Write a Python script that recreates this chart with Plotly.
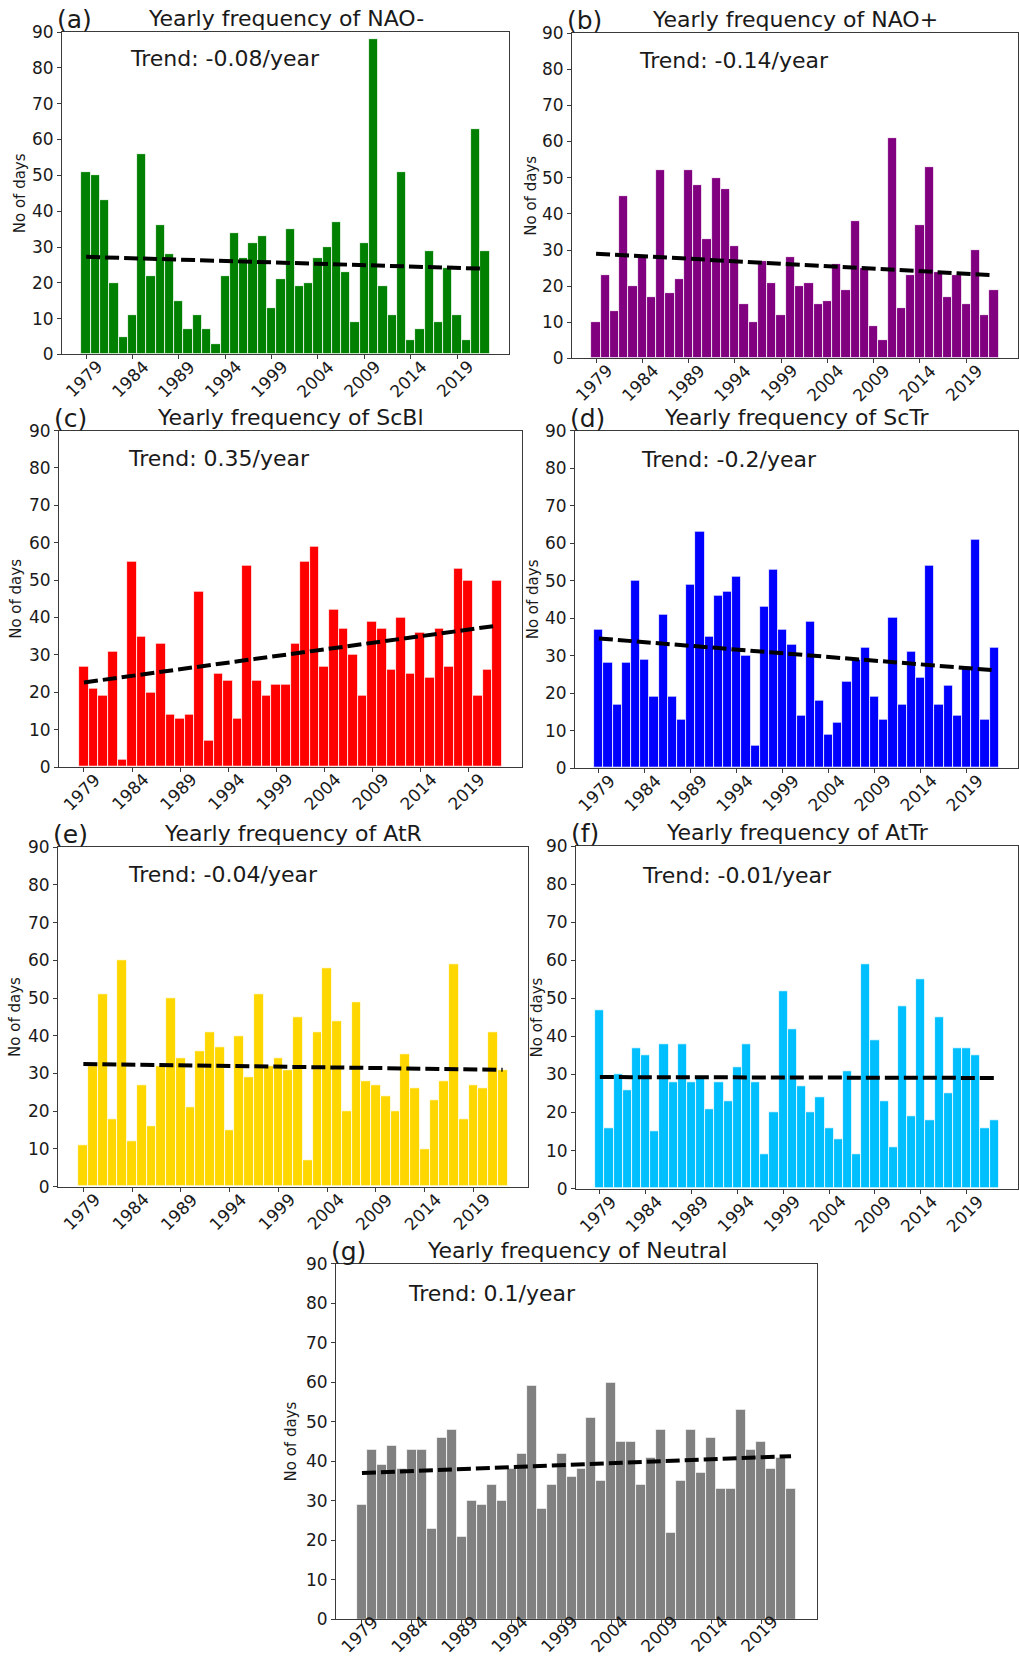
import numpy as np
import plotly.graph_objects as go

# ---------------- data ----------------
years = list(range(1979, 2023))

nao_minus = [51, 50, 43, 20, 5, 11, 56, 22, 36, 28,
             15, 7, 11, 7, 3, 22, 34, 27, 31, 33,
             13, 21, 35, 19, 20, 27, 30, 37, 23, 9,
             31, 88, 19, 11, 51, 4, 7, 29, 9, 24,
             11, 4, 63, 29]
nao_plus = [10, 23, 13, 45, 20, 28, 17, 52, 18, 22,
            52, 48, 33, 50, 47, 31, 15, 10, 27, 21,
            12, 28, 20, 21, 15, 16, 26, 19, 38, 25,
            9, 5, 61, 14, 23, 37, 53, 24, 17, 23,
            15, 30, 12, 19]
scbl = [27, 21, 19, 31, 2, 55, 35, 20, 33, 14,
        13, 14, 47, 7, 25, 23, 13, 54, 23, 19,
        22, 22, 33, 55, 59, 27, 42, 37, 30, 19,
        39, 37, 26, 40, 25, 36, 24, 37, 27, 53,
        50, 19, 26, 50]
sctr = [37, 28, 17, 28, 50, 29, 19, 41, 19, 13,
        49, 63, 35, 46, 47, 51, 30, 6, 43, 53,
        37, 33, 14, 39, 18, 9, 12, 23, 29, 32,
        19, 13, 40, 17, 31, 24, 54, 17, 22, 14,
        27, 61, 13, 32]
atr = [11, 32, 51, 18, 60, 12, 27, 16, 32, 50,
       34, 21, 36, 41, 37, 15, 40, 29, 51, 32,
       34, 31, 45, 7, 41, 58, 44, 20, 49, 28,
       27, 24, 20, 35, 26, 10, 23, 28, 59, 18,
       27, 26, 41, 31]
attr = [47, 16, 30, 26, 37, 35, 15, 38, 28, 38,
        28, 29, 21, 28, 23, 32, 38, 28, 9, 20,
        52, 42, 27, 20, 24, 16, 13, 31, 9, 59,
        39, 23, 11, 48, 19, 55, 18, 45, 25, 37,
        37, 35, 16, 18]
neutral = [29, 43, 39, 44, 38, 43, 43, 23, 46, 48,
           21, 30, 29, 34, 30, 38, 42, 59, 28, 34,
           42, 36, 38, 51, 35, 60, 45, 45, 34, 41,
           48, 22, 35, 48, 37, 46, 33, 33, 53, 43,
           45, 38, 41, 33]

regime_names = ["NAO-", "NAO+", "ScBl", "ScTr", "AtR", "AtTr", "Neutral"]
panel_letters = ["(a)", "(b)", "(c)", "(d)", "(e)", "(f)", "(g)"]
trend_labels = ["-0.08", "-0.14", "0.35", "-0.2", "-0.04", "-0.01", "0.1"]
series = [nao_minus, nao_plus, scbl, sctr, atr, attr, neutral]
bar_colors = ["#008000", "#800080", "#ff0000", "#0000ff", "#ffd700", "#00bfff", "#808080"]
year_ticks = years[::5]
y_ticks = list(range(0, 91, 10))

# ---------------- layout geometry (pixels) ----------------
W, H = 1019, 1664
# (left, top, right, bottom) of each plot frame, in target-image pixels
boxes = [(62, 33, 509, 355), (572, 34, 1018, 359),
         (59, 431, 522, 767), (575, 431, 1018, 768),
         (58, 847, 528, 1186), (576, 846, 1018, 1188),
         (336, 1263, 817, 1618)]
trend_pos = [(128, 59), (637, 61), (126, 459), (639, 460),
             (126, 874), (640, 875), (406, 1293)]
ylabel_x = [20, 531, 16, 533, 15, 537, 291]
# distance of the rotated year-label centre below the axis (px)
year_label_drop = [25, 25, 25, 25, 25, 25, 15]

# vertical compensation measured from the rendered page
V_OFF, V_SC = 11.0, 0.9866

FONT = "DejaVu Sans"
TXT = "#1a1a1a"
SPINE = "#3a3a3a"


def fx(p):
    return p / W


def fy(p):
    return 1 - ((p - V_OFF) / V_SC) / H


fig = go.Figure()
annotations = []
layout_axes = {}

for i, vals in enumerate(series):
    k = i + 1
    xa = "x" if k == 1 else f"x{k}"
    ya = "y" if k == 1 else f"y{k}"
    xkey = "xaxis" if k == 1 else f"xaxis{k}"
    ykey = "yaxis" if k == 1 else f"yaxis{k}"
    l, t, r, b = boxes[i]

    fig.add_trace(go.Bar(
        x=years, y=vals, width=1.0, xaxis=xa, yaxis=ya,
        marker=dict(color=bar_colors[i], line=dict(color="white", width=0.8)),
        showlegend=False, hoverinfo="x+y"))

    slope, icpt = np.polyfit(years, vals, 1)
    xs = [years[0], years[-1]]
    fig.add_trace(go.Scatter(
        x=xs, y=[slope * v + icpt for v in xs], mode="lines",
        line=dict(color="black", width=4, dash="14px,5px"),
        xaxis=xa, yaxis=ya, showlegend=False, hoverinfo="skip"))

    layout_axes[xkey] = dict(
        domain=[fx(l), fx(r)], anchor=ya, range=[1976.4, 2024.6],
        tickmode="array", tickvals=year_ticks, showticklabels=False,
        ticks="outside", ticklen=4, tickcolor=SPINE, tickwidth=1,
        showline=True, mirror=True, linecolor=SPINE, linewidth=1,
        showgrid=False, zeroline=False, fixedrange=True)
    layout_axes[ykey] = dict(
        domain=[fy(b), fy(t)], anchor=xa, range=[0, 90],
        tickmode="array", tickvals=y_ticks,
        tickfont=dict(family=FONT, size=17, color=TXT),
        ticks="outside", ticklen=4, tickcolor=SPINE, tickwidth=1,
        showline=True, mirror=True, linecolor=SPINE, linewidth=1,
        showgrid=False, zeroline=False, fixedrange=True)

    # title
    annotations.append(dict(
        text=f"Yearly frequency of {regime_names[i]}", xref="paper", yref="paper",
        x=fx((l + r) / 2), y=fy(t), xanchor="center", yanchor="bottom", yshift=-1,
        showarrow=False, font=dict(family=FONT, size=22, color=TXT)))
    # panel letter
    annotations.append(dict(
        text=panel_letters[i], xref="paper", yref="paper",
        x=fx(l - 7), y=fy(t), xanchor="left", yanchor="bottom", yshift=-4,
        showarrow=False, font=dict(family=FONT, size=25, color=TXT)))
    # trend text
    tx, ty = trend_pos[i]
    annotations.append(dict(
        text=f"Trend: {trend_labels[i]}/year", xref="paper", yref="paper",
        x=fx(tx), y=fy(ty), xanchor="left", yanchor="middle",
        showarrow=False, font=dict(family=FONT, size=22, color=TXT)))
    # y label
    annotations.append(dict(
        text="No of days", xref="paper", yref="paper",
        x=fx(ylabel_x[i]), y=fy((t + b) / 2), xanchor="center", yanchor="middle",
        textangle=-90, showarrow=False, font=dict(family=FONT, size=15, color=TXT)))
    # rotated year labels
    for yr in year_ticks:
        annotations.append(dict(
            text=str(yr), xref=xa, yref=ya, x=yr, y=0,
            xanchor="center", yanchor="middle", xshift=-2,
            yshift=-year_label_drop[i],
            textangle=-45, showarrow=False,
            font=dict(family=FONT, size=17, color=TXT)))

# panel (f) y-label partly hidden behind panel (e) in the original figure
shapes = [dict(type="rect", xref="paper", yref="paper",
               x0=fx(529), x1=fx(531.5), y0=fy(1188), y1=fy(846),
               fillcolor="white", line=dict(width=0), layer="above")]

fig.update_layout(
    width=W, height=H, margin=dict(l=0, r=0, t=0, b=0),
    paper_bgcolor="white", plot_bgcolor="white",
    annotations=annotations, shapes=shapes, bargap=0,
    **layout_axes)

fig.write_html("out.html")
